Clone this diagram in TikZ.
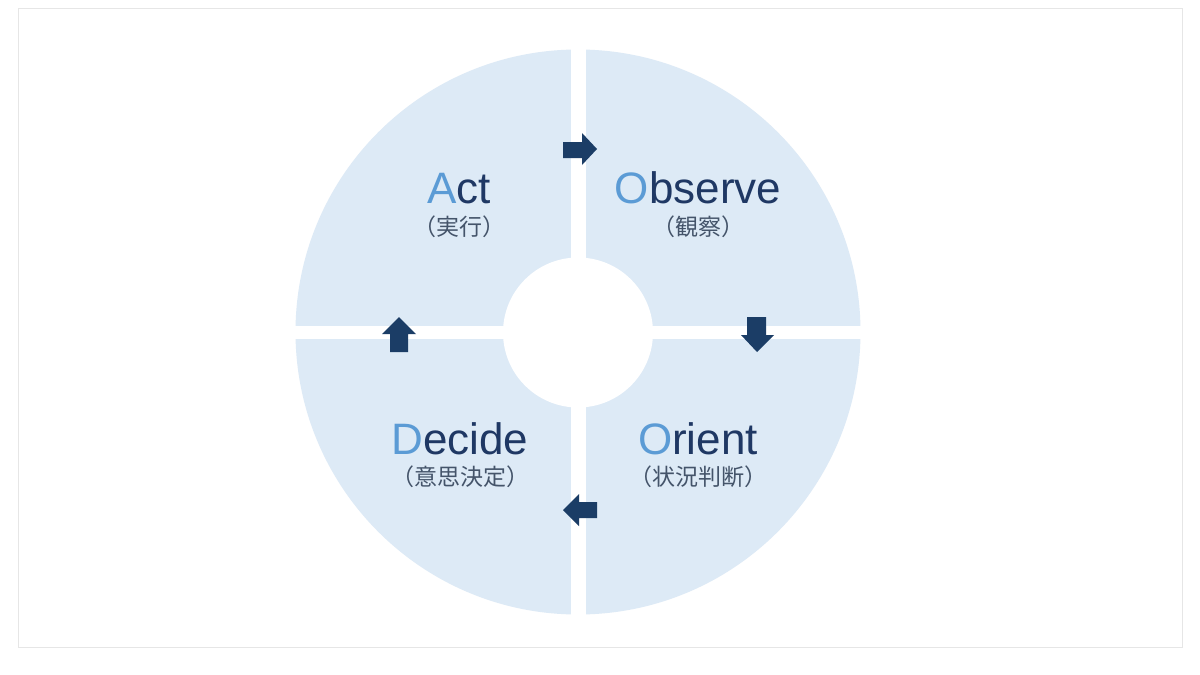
\documentclass[tikz,border=0pt]{standalone}
\usepackage{fontspec}
\setmainfont{Liberation Sans}
\newfontfamily\cjk{Noto Sans CJK JP}
\definecolor{discfill}{HTML}{DDEAF6}
\definecolor{initial}{HTML}{5B9BD5}
\definecolor{navy}{HTML}{1F3864}
\definecolor{arrowcol}{HTML}{1B3D66}
\definecolor{subcol}{HTML}{44546A}
\definecolor{framecol}{HTML}{E6E6E6}
\tikzset{
  title/.style={anchor=base, inner sep=0pt, font=\fontsize{44}{48}\selectfont, text=navy},
  subtitle/.style={anchor=center, inner sep=0pt, font=\cjk\fontsize{23}{26}\selectfont, text=subcol},
  flowarrow/.style={fill=arrowcol, draw=none}
}
\begin{document}
\begin{tikzpicture}[x=1pt,y=-1pt]
\useasboundingbox (0,0) rectangle (1200,675);
\fill[white] (0,0) rectangle (1200,675);
\draw[framecol, line width=1pt] (18,8) rectangle (1182,647);
% disc
\fill[discfill] (578,332) circle[radius=282.5];
% gaps
\fill[white] (571,40) rectangle (586,625);
\fill[white] (285,325.5) rectangle (871,339);
\fill[white] (578,332.5) circle[radius=75];
% arrows
\fill[flowarrow] (563,142) -- (582,142) -- (582,133) -- (597,149) -- (582,165) -- (582,158) -- (563,158) -- cycle;
\fill[flowarrow] (747,317) -- (766,317) -- (766,335) -- (774,335) -- (757,352) -- (741,335) -- (747,335) -- cycle;
\fill[flowarrow] (597,502) -- (579,502) -- (579,494) -- (563,510) -- (579,526) -- (579,518) -- (597,518) -- cycle;
\fill[flowarrow] (390,352) -- (390,334) -- (382,334) -- (399,317) -- (416,334) -- (408,334) -- (408,352) -- cycle;
% texts
\node[title] (act) at (459,203) {{\color{initial}A}ct};
\node[subtitle] (actj) at (459,227) {（実行）};
\node[title] (obs) at (698,203) {{\color{initial}O}bserve};
\node[subtitle] (obsj) at (698,227) {（観察）};
\node[title] (dec) at (460,454) {{\color{initial}D}ecide};
\node[subtitle] (decj) at (460,477) {（意思決定）};
\node[title] (ori) at (698,454) {{\color{initial}O}rient};
\node[subtitle] (orij) at (698,477) {（状況判断）};
\end{tikzpicture}
\end{document}
